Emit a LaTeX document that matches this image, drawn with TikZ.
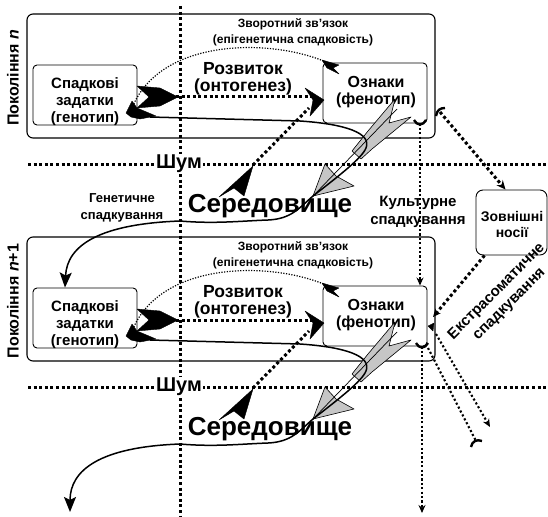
\documentclass[tikz,border=0pt]{standalone}
\usepackage{fontspec}
\setmainfont{Liberation Sans}
\usetikzlibrary{arrows.meta,calc}
\tikzset{
  outerbox/.style={draw, line width=1.1pt, rounded corners=6pt, inner sep=0pt},
  innerbox/.style={draw, line width=0.9pt, rounded corners=4pt, inner sep=0pt},
  bigdots/.style={line width=3pt, dash pattern=on 3pt off 2.6pt},
  middots/.style={line width=2.1pt, dash pattern=on 2.1pt off 2.3pt},
  finedots/.style={line width=1.2pt, dash pattern=on 1.2pt off 1.5pt},
  genline/.style={line width=1.5pt},
  blackfill/.style={fill=black, draw=black, line width=0.4pt, line join=round},
  grayfill/.style={fill=gray!45, draw=black, line width=0.6pt, line join=round},
  hookmark/.style={line width=2.4pt},
  tA/.style={align=center, inner sep=0pt, font=\bfseries\fontsize{12}{16}\selectfont},
  tB/.style={align=center, inner sep=0pt, font=\bfseries\fontsize{13}{17}\selectfont},
  tC/.style={align=center, inner sep=0pt, font=\bfseries\fontsize{15}{17}\selectfont},
  tD/.style={align=center, inner sep=0pt, font=\bfseries\fontsize{16}{17}\selectfont},
  tE/.style={align=center, inner sep=0pt, font=\bfseries\fontsize{17.5}{17}\selectfont},
  tF/.style={align=center, inner sep=1pt, font=\bfseries\fontsize{20}{22}\selectfont},
  tG/.style={align=center, inner sep=0pt, font=\bfseries\fontsize{26}{28}\selectfont},
  tH/.style={align=center, inner sep=0pt, font=\bfseries\fontsize{14}{16}\selectfont},
  tI/.style={align=center, inner sep=0pt, font=\bfseries\fontsize{15}{18}\selectfont},
}
\newcommand\generation[3]{%
\begin{scope}[shift={(0,#2)}]
\node[outerbox, minimum width=408pt, minimum height=124pt] (outer#1) at (231,76) {};
\node[innerbox, minimum width=104pt, minimum height=60pt] (geno#1) at (85,95) {};
\node[innerbox, minimum width=104pt, minimum height=60pt] (pheno#1) at (375,93) {};
\node[tC] (genotxt#1) at (85,102) {Спадкові\\задатки\\(генотип)};
\node[tD] (phenotxt#1) at (376,92) {Ознаки\\(фенотип)};
\node[tA] (fbtxt#1) at (293,32) {Зворотний зв'язок\\(епігенетична спадковість)};
\node[tE] (devtxt#1) at (243,79) {Розвиток\\(онтогенез)};
\node[tD, rotate=90] (genlabel#1) at (13,78) {#3};
% feedback curve
\coordinate (fbstart#1) at (326,62);
\coordinate (fbend#1) at (132,108);
\draw[finedots] (fbstart#1) .. controls (270,38) and (160,38) .. (fbend#1);
\fill[blackfill] (322,60) -- (339,65) -- (333,68) -- (339,74) -- (327,68) -- cycle;
\fill[blackfill] (126,113) -- (132,101) -- (137,108) -- (156,116) -- (140,119) -- (131,117) -- cycle;
% development
\coordinate (devtail#1) at (176,97);
\coordinate (devhead#1) at (312,97);
\draw[bigdots] (devtail#1) -- (devhead#1);
\fill[blackfill] (137,86) -- (160,88) -- (178,97) -- (160,106) -- (137,108) -- (149,97) -- cycle;
% environment influence
\coordinate (envtip#1) at (253,165);
\coordinate (envend#1) at (309,108);
\draw[bigdots] (envtip#1) -- (envend#1);
\fill[blackfill] (305,88) -- (324,100) -- (310,116) -- (313,100) -- cycle;
\fill[blackfill] (253,166) -- (219,197) -- (234,188) -- (244,196) -- cycle;
% noise line
\coordinate (noiseL#1) at (28,164);
\coordinate (noiseR#1) at (548,164);
\draw[bigdots] (noiseL#1) -- (noiseR#1);
\node[tF, fill=white] (noise#1) at (179,164) {Шум};
\node[tG] (envtxt#1) at (270,206) {Середовище};
% gray arrow (phenotype -> environment)
\fill[grayfill] (395,99) -- (389,123) -- (411,117) -- (372,149) -- (361,159) -- (352,151) -- (368,131) -- cycle;
\fill[grayfill] (313,196) -- (325,164) -- (336,176) -- (354,186) -- cycle;
\draw[line width=0.7pt] (397,109) -- (313,196);
% genetic inheritance line (first part)
\coordinate (gs#1) at (150,117);
\coordinate (gl#1) at (180,221);
\draw[genline] (gs#1) -- (300,121) .. controls (345,124) and (372,133) .. (366,148) .. controls (362,158) and (340,175) .. (313,196) .. controls (300,207) and (292,219) .. (268,220) .. controls (240,221) and (215,224) .. (gl#1);
\end{scope}}

\begin{document}
\begin{tikzpicture}[x=1pt,y=-1pt]
\useasboundingbox[fill=white] (0,0) rectangle (548,516);
% main vertical line
\coordinate (vtop) at (180,6);
\coordinate (vbot) at (180,516);
\draw[bigdots] (vtop) -- (vbot);

\generation{A}{0}{Покоління \textit{n}}
\generation{B}{223}{Покоління \textit{n}+1}

% genetic inheritance arrows
\coordinate (finalend) at (70,512);
\draw[genline,-{Stealth[length=15pt,width=12pt,inset=3pt]}] (glA) .. controls (100,224) and (67,245) .. ([xshift=-20pt]genoB.north);
\draw[genline,-{Stealth[length=15pt,width=12pt,inset=3pt]}] (glB) .. controls (100,447) and (70,470) .. (finalend);

\node[tB] (gentxt) at (122,208) {Генетичне\\спадкування};
\node[tI] (cultxt) at (418,212) {Культурне\\спадкування};

% external carriers
\node[innerbox, minimum width=71pt, minimum height=65pt, rounded corners=7pt] (ext) at (511.5,222.5) {};
\node[tH] (exttxt) at (512,224) {Зовнішні\\носії};
\node[tI, rotate=45] (extratxt) at (503,298) {Екстрасоматичне\\спадкування};

% cultural inheritance
\coordinate (culx) at (420,0);
\draw[middots,-{Stealth[length=8pt,width=7pt]}] (phenoA.south -| culx) -- (phenoB.north -| culx);
\draw[hookmark] (414,120) .. controls (417,126) and (423,126) .. (426,120);
\coordinate (culend) at (422,513);
\draw[middots,-{Stealth[length=8pt,width=7pt]}] (phenoB.south -| culend) -- (culend);
\draw[hookmark] (416,343) .. controls (419,349) and (425,349) .. (428,343);

% extrasomatic
\coordinate (extA) at (440,112);
\draw[bigdots,-{Stealth[length=9pt,width=8pt]}] (extA) -- ([xshift=-6pt]ext.north);
\draw[hookmark] (436,116) .. controls (437,110) and (440,108) .. (445,108);
\coordinate (extB) at (433,317);
\draw[bigdots,-{Stealth[length=8pt,width=7pt]}] ([xshift=-27pt]ext.south) -- (extB);
\fill[blackfill] (428,326) -- (434,323) -- (433,331) -- cycle;
\coordinate (dr1s) at (436,334);
\coordinate (dr1e) at (490,427);
\draw[middots,-{Stealth[length=8pt,width=7pt]}] (dr1s) -- (dr1e);
\coordinate (dr2s) at (428,348);
\coordinate (dr2e) at (476,441);
\draw[middots] (dr2s) -- (dr2e);
\draw[hookmark] (471,447) .. controls (472,441) and (477,439) .. (482,441);
\end{tikzpicture}
\end{document}
